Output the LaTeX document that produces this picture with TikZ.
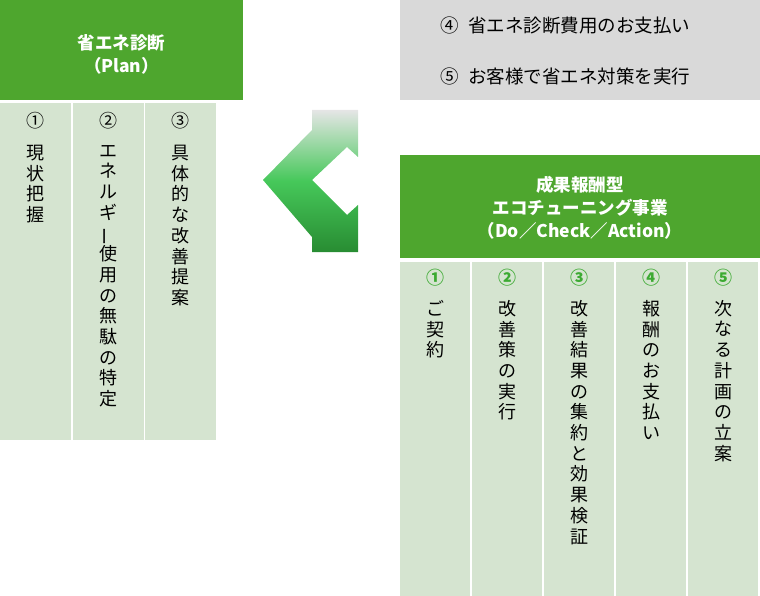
\documentclass[tikz,border=0pt]{standalone}
\usepackage{fontspec}
\setmainfont{Noto Sans CJK JP}
\usepackage{graphicx}
\definecolor{hgreen}{RGB}{78,166,46}
\definecolor{cgreen}{RGB}{213,228,208}
\definecolor{gbox}{RGB}{217,217,217}
\definecolor{ngreen}{RGB}{60,170,50}
\definecolor{agreen}{RGB}{70,200,90}
\definecolor{dgreen}{RGB}{40,140,50}
\newcommand\myvbar{\rotatebox[origin=c]{90}{ー}}
\tikzset{
 hdr/.style={fill=hgreen,text=white,font=\fontsize{17.5}{23}\selectfont\bfseries,align=center,inner sep=0},
 col/.style={fill=cgreen},
 vtxt/.style={anchor=north,align=center,font=\fontsize{18}{20.7}\selectfont,inner sep=0},
 num/.style={anchor=north,font=\fontsize{18}{21}\selectfont,inner sep=0}
}
\begin{document}
\begin{tikzpicture}[x=1pt,y=-1pt]
\useasboundingbox (0,0) rectangle (760,596);
% left
\fill[hgreen] (0,0) rectangle (243,100);
\node[hdr] (lh) at (121.5,54) {省エネ診断\\（Plan）};
\foreach \x in {0,73,145}{\fill[col] (\x,103) rectangle ++(71,337);}
\node[num] (l1) at (35,112) {①};
\node[num] (l2) at (108,112) {②};
\node[num] (l3) at (180,112) {③};
\node[vtxt] (t1) at (35,145) {現\\状\\把\\握};
\node[vtxt] (t2) at (108,145) {エ\\ネ\\ル\\ギ\\\myvbar\\使\\用\\の\\無\\駄\\の\\特\\定};
\node[vtxt] (t3) at (180,145) {具\\体\\的\\な\\改\\善\\提\\案};
% gray
\fill[gbox] (400,0) rectangle (760,100);
\node[font=\fontsize{18.5}{21}\selectfont,anchor=west] (g1) at (437,26) {④\hspace{0.5em}省エネ診断費用のお支払い};
\node[font=\fontsize{18.5}{21}\selectfont,anchor=west] (g2) at (437,76) {⑤\hspace{0.5em}お客様で省エネ対策を実行};
% right header
\fill[hgreen] (400,155) rectangle (760,258);
\node[hdr] (rh) at (580,208) {成果報酬型\\エコチューニング事業\\（Do／Check／Action）};
\foreach \x in {400,472,544,616,688}{\fill[col] (\x,262) rectangle ++(70,334);}
\foreach \n/\x/\s in {1/435/①,2/507/②,3/579/③,4/651/④,5/723/⑤}{
 \node[num,text=ngreen,font=\fontsize{18}{21}\selectfont\bfseries] (r\n) at (\x,269) {\s};}
\node[vtxt] (u1) at (435,300) {ご\\契\\約};
\node[vtxt] (u2) at (507,300) {改\\善\\策\\の\\実\\行};
\node[vtxt] (u3) at (579,300) {改\\善\\結\\果\\の\\集\\約\\と\\効\\果\\検\\証};
\node[vtxt] (u4) at (651,300) {報\\酬\\の\\お\\支\\払\\い};
\node[vtxt] (u5) at (723,300) {次\\な\\る\\計\\画\\の\\立\\案};
% arrow
\shade[top color=gray!20, bottom color=dgreen, middle color=agreen]
 (263,180) -- (312,130) -- (312,110) -- (358,110) -- (358,157) -- (347,147)
 -- (312,180) -- (347,215) -- (358,205) -- (358,252) -- (312,252) -- (312,237) -- cycle;
\end{tikzpicture}
\end{document}
